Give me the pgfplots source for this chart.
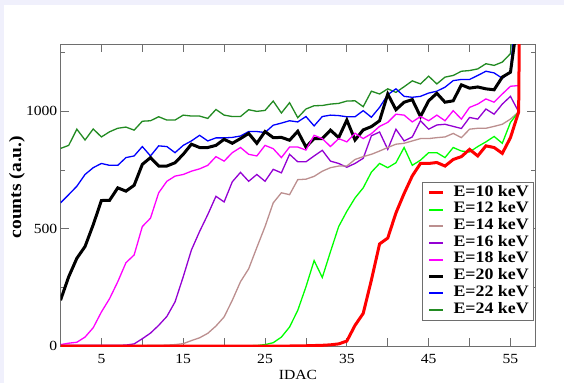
\documentclass[border=0pt]{standalone}
\usepackage{fontspec}
\setmainfont[FakeStretch=1.12]{Liberation Serif}
\usepackage{pgfplots}
\usepackage{pgfplotstable}
\pgfplotsset{compat=1.18}
\definecolor{lav}{RGB}{240,240,252}
\definecolor{cE10}{RGB}{255,0,0}
\definecolor{cE12}{RGB}{0,255,0}
\definecolor{cE14}{RGB}{188,143,143}
\definecolor{cE16}{RGB}{148,0,211}
\definecolor{cE18}{RGB}{255,0,255}
\definecolor{cE20}{RGB}{0,0,0}
\definecolor{cE22}{RGB}{0,0,255}
\definecolor{cE24}{RGB}{34,139,34}
\definecolor{frame}{RGB}{110,110,110}
\pgfplotstableread{
n e10 e12 e14 e16 e18 e20 e22 e24
0 0 0 2 3 6 195 610 842
1 0 0 2 3 12 295 645 855
2 0 0 2 3 16 374 681 924
3 0 0 2 3 38 424 731 878
4 0 0 2 3 78 517 760 925
5 0 0 2 3 145 620 778 891
6 0 0 2 3 202 621 770 913
7 0 0 2 3 274 674 770 928
8 0 0 2 4 355 660 803 933
9 0 0 2 9 388 685 810 920
10 0 0 2 31 509 774 850 958
11 0 0 3 55 545 803 810 960
12 0 0 3 88 653 767 853 977
13 0 0 4 126 702 767 850 963
14 0 0 6 188 724 781 824 963
15 0 0 10 295 731 817 855 984
16 0 0 23 409 745 860 874 980
17 0 0 35 488 755 846 898 980
18 0 0 54 560 770 846 874 970
19 0 0 85 638 807 855 887 1008
20 0 0 124 614 788 881 887 984
21 0 0 195 700 824 864 889 978
22 0 1 274 740 846 884 895 978
23 0 1 329 702 817 906 914 1007
24 0 2 420 731 810 864 914 1000
25 0 6 509 702 855 914 910 1004
26 0 14 610 753 841 888 941 1044
27 0 38 653 738 803 889 950 993
28 0 81 645 817 848 877 960 1037
29 1 152 709 785 848 915 955 973
30 1 252 711 785 835 848 978 1010
31 2 364 723 810 898 884 938 1024
32 3 292 745 834 884 884 978 1025
33 5 402 760 788 850 920 984 1031
34 9 509 767 778 884 888 982 1034
35 21 574 767 762 870 963 977 1044
36 88 631 795 778 907 878 977 1045
37 139 674 807 800 884 921 1003 1020
38 281 741 817 896 905 935 975 1086
39 435 778 831 912 936 960 1017 1074
40 460 760 846 838 953 1074 1071 1096
41 567 781 860 924 988 1007 1096 1081
42 650 846 864 874 984 1039 1064 1105
43 725 770 874 891 955 1050 1060 1130
44 778 792 884 960 978 978 1064 1117
45 778 824 884 924 960 1045 1078 1150
46 782 824 888 942 984 1077 1086 1117
47 767 803 891 945 960 1039 1103 1146
48 795 846 906 936 1003 1045 1131 1153
49 807 831 888 927 967 1113 1136 1171
50 838 827 924 974 1017 1099 1136 1174
51 810 850 928 967 1031 1104 1153 1181
52 853 870 928 1010 1053 1096 1171 1203
53 846 893 936 988 1039 1092 1164 1196
54 821 864 945 1031 1074 1146 1141 1210
55 888 953 967 1064 1107 1167 1167 1246
56 998 998 998 998 1110 1420 1600 1800
57 5000 5000 5000 5000 5000 5000 5000 5000
}\datatable
\begin{document}
\begin{tikzpicture}[x=1bp,y=1bp]
\fill[lav] (0,0) rectangle (564,383);
\fill[white] (3.6,0) rectangle (564,377.6);
\path[use as bounding box] (0,0) rectangle (564,383);
\begin{axis}[
  at={(60.5bp,37bp)}, anchor=south west,
  width=474.5bp, height=301.5bp, scale only axis,
  xmin=0, xmax=58, ymin=0, ymax=1285,
  axis line style={frame, line width=0.8bp},
  tick align=inside,
  tick style={frame, line width=0.8bp},
  major tick length=8bp, minor tick length=4bp,
  xtick={5,10,...,55},
  xticklabels={5,,15,,25,,35,,45,,55},
  ytick={0,500,1000},
  yticklabels={0,500,1000},
  minor ytick={250,750,1250},
  ticklabel style={font=\fontsize{14}{14}\selectfont},
  xticklabel style={anchor=north, inner sep=0pt, yshift=-8bp},
  yticklabel style={anchor=east, inner sep=0pt, xshift=-3bp},
  xlabel={IDAC},
  xlabel style={font=\fontsize{14}{14}\selectfont, at={(axis description cs:0.5005,-0.096)}, anchor=center},
  ylabel={\textbf{counts (a.u.)}},
  ylabel style={font=\fontsize{17.5}{17.5}\selectfont, at={(axis description cs:-0.0917,0.527)}, anchor=center},
  legend style={at={(0.998,0.083)}, anchor=south east, fill=white,
    font=\bfseries\fontsize{16}{16}\selectfont,
    inner xsep=5bp, inner ysep=2.5bp, column sep=9bp, row sep=0pt,
    nodes={inner xsep=0pt, inner ysep=0pt, text height=11.7bp, text depth=5bp}},
  every axis legend/.append style={draw=frame, line width=0.8bp},
  legend cell align=left,
  legend image code/.code={\draw[#1] (0bp,0bp) -- (14bp,0bp);},
]
\addplot[cE24, line width=1.3bp, forget plot] table[x=n, y=e24] {\datatable};
\addplot[cE22, line width=1.3bp, forget plot] table[x=n, y=e22] {\datatable};
\addplot[cE20, line width=3bp, forget plot] table[x=n, y=e20] {\datatable};
\addplot[cE18, line width=1.3bp, forget plot] table[x=n, y=e18] {\datatable};
\addplot[cE16, line width=1.3bp, forget plot] table[x=n, y=e16] {\datatable};
\addplot[cE14, line width=1.3bp, forget plot] table[x=n, y=e14] {\datatable};
\addplot[cE12, line width=1.3bp, forget plot] table[x=n, y=e12] {\datatable};
\addplot[cE10, line width=3bp, forget plot] table[x=n, y=e10] {\datatable};
\addlegendimage{draw=cE10, line width=3bp}
\addlegendentry{E=10 keV}
\addlegendimage{draw=cE12, line width=2bp}
\addlegendentry{E=12 keV}
\addlegendimage{draw=cE14, line width=2bp}
\addlegendentry{E=14 keV}
\addlegendimage{draw=cE16, line width=2bp}
\addlegendentry{E=16 keV}
\addlegendimage{draw=cE18, line width=2bp}
\addlegendentry{E=18 keV}
\addlegendimage{draw=cE20, line width=3bp}
\addlegendentry{E=20 keV}
\addlegendimage{draw=cE22, line width=2bp}
\addlegendentry{E=22 keV}
\addlegendimage{draw=cE24, line width=2bp}
\addlegendentry{E=24 keV}
\end{axis}
\end{tikzpicture}
\end{document}
